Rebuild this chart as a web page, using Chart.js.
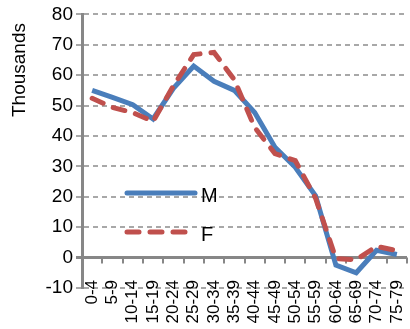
<!DOCTYPE html>
<html lang="en">
<head>
    <meta charset="UTF-8">
    <title>Population by age group</title>
    <script src="https://cdn.jsdelivr.net/npm/chart.js"></script>
    <style>
        body { margin: 0; background: #fff; }
        .chart-box { width: 410px; height: 329px; position: relative; }
    </style>
</head>
<body>

<div class="chart-box">
    <canvas id="ageChart"></canvas>
</div>

<script>
    // Age groups and population (thousands) per sex
    var ageGroups = ['0-4', '5-9', '10-14', '15-19', '20-24', '25-29', '30-34', '35-39',
                     '40-44', '45-49', '50-54', '55-59', '60-64', '65-69', '70-74', '75-79'];
    var males   = [55, 52.7, 50.3, 45.6, 55.7, 63, 58, 55, 47.7, 36.3, 29.7, 20.3, -2.5, -5, 2.4, 1];
    var females = [52.4, 49.4, 47.7, 44.8, 56.5, 66.8, 67.5, 58.5, 42.8, 34.2, 31.9, 19.5, -0.3, -0.7, 3.7, 2.3];
    var yTicks  = [-10, 0, 10, 20, 30, 40, 50, 60, 70, 80];

    var blue = '#4a7ebb';
    var red = '#c0504d';
    var axisGrey = '#878787';
    var gridGrey = '#a8a8a8';
    var fontName = '"Liberation Sans", Arial, sans-serif';

    // tick marks on the zero line, the in-plot legend and the axis title
    var extras = {
        id: 'extras',
        beforeDatasetsDraw: function(chart) {
            var ctx = chart.ctx;
            var x = chart.scales.x, y = chart.scales.y;
            var y0 = y.getPixelForValue(0);
            ctx.save();
            ctx.strokeStyle = axisGrey;
            ctx.lineWidth = 2;
            for (var i = 1; i <= ageGroups.length; i++) {
                var px = Math.round(x.getPixelForValue(i - 0.5));
                ctx.beginPath();
                ctx.moveTo(px, y0);
                ctx.lineTo(px, y0 + 6);
                ctx.stroke();
            }
            ctx.restore();
        },
        afterDraw: function(chart) {
            var ctx = chart.ctx;
            ctx.save();
            var items = [
                { label: 'M', color: blue, dash: [], y: 193 },
                { label: 'F', color: red, dash: [12, 11], y: 232 }
            ];
            items.forEach(function(it) {
                ctx.strokeStyle = it.color;
                ctx.lineWidth = 5;
                ctx.lineCap = 'round';
                ctx.setLineDash(it.dash);
                ctx.beginPath();
                ctx.moveTo(127, it.y);
                ctx.lineTo(195, it.y);
                ctx.stroke();
                ctx.setLineDash([]);
                ctx.fillStyle = '#000';
                ctx.font = '20px ' + fontName;
                ctx.textBaseline = 'alphabetic';
                ctx.textAlign = 'left';
                ctx.fillText(it.label, 201, it.y + 9);
            });

            ctx.translate(20, 70);
            ctx.rotate(-Math.PI / 2);
            ctx.font = '19px ' + fontName;
            ctx.textAlign = 'center';
            ctx.textBaseline = 'middle';
            ctx.fillText('Thousands', 0, 0);
            ctx.restore();
        }
    };

    var ctx = document.getElementById('ageChart').getContext('2d');
    var ageChart = new Chart(ctx, {
        type: 'line',
        data: {
            labels: ageGroups,
            datasets: [
                {
                    label: 'M',
                    data: males,
                    borderColor: blue,
                    borderWidth: 5,
                    pointRadius: 0,
                    tension: 0,
                    order: 1
                },
                {
                    label: 'F',
                    data: females,
                    borderColor: red,
                    borderWidth: 5,
                    borderDash: [12, 11],
                    borderCapStyle: 'round',
                    pointRadius: 0,
                    tension: 0,
                    order: 0
                }
            ]
        },
        options: {
            responsive: true,
            maintainAspectRatio: false,
            animation: false,
            layout: { padding: { top: 13, right: 3, left: 0, bottom: 0 } },
            plugins: {
                legend: { display: false },
                tooltip: { enabled: false }
            },
            scales: {
                x: {
                    offset: true,
                    grid: { display: false },
                    border: { display: false },
                    ticks: {
                        color: '#000',
                        font: { family: fontName, size: 17 },
                        minRotation: 90,
                        maxRotation: 90,
                        autoSkip: false,
                        padding: -16
                    },
                    afterFit: function(scale) {
                        scale.height = 41;
                        scale.paddingLeft = 0;
                        scale.paddingRight = 0;
                        // labels start a little above the bottom gridline, so don't clip them to the axis box
                        scale._computeLabelArea = function() { return undefined; };
                    }
                },
                y: {
                    min: -10,
                    max: 80,
                    afterBuildTicks: function(scale) {
                        scale.ticks = yTicks.map(function(v) { return { value: v }; });
                    },
                    grid: {
                        color: function(c) { return c.tick && c.tick.value === 0 ? axisGrey : gridGrey; },
                        lineWidth: function(c) { return c.tick && c.tick.value === 0 ? 3 : 2; },
                        tickLength: 6
                    },
                    border: {
                        display: true,
                        color: axisGrey,
                        width: 3,
                        dash: function(c) { return c.tick && c.tick.value === 0 ? [] : [5, 4]; }
                    },
                    ticks: {
                        color: '#000',
                        font: { family: fontName, size: 19 },
                        padding: 3
                    },
                    afterFit: function(scale) {
                        scale.width = 82;
                    }
                }
            }
        },
        plugins: [extras]
    });
</script>

</body>
</html>
